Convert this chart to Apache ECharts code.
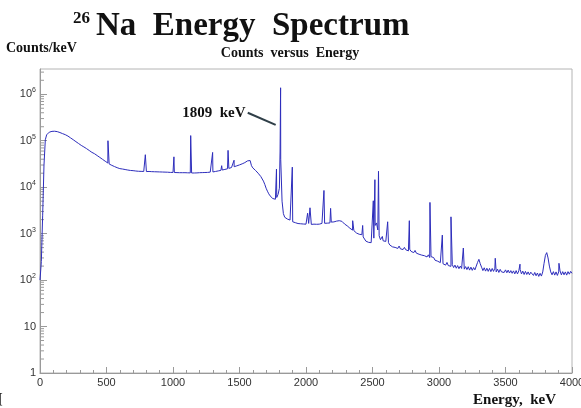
<!DOCTYPE html>
<html>
<head>
<meta charset="utf-8">
<script src="https://cdn.jsdelivr.net/npm/echarts@6/dist/echarts.min.js"></script>
<style>
  html, body { margin: 0; padding: 0; background: #ffffff; }
  #chart { width: 581px; height: 408px; }
</style>
</head>
<body>
<div id="chart"></div>
<script>
// 26Na gamma-ray spectrum, counts per keV.
// Continuum sampled every 10 keV from 0 to 4000 keV.
const continuumStepKeV = 10;
const continuumCounts = [
  100, 250, 2500, 30000, 105000, 134000, 146000, 153000, 157000, 159000,
  160000, 160000, 159000, 157000, 154000, 150000, 146000, 142000, 138000, 135000,
  132000, 126000, 121000, 115000, 110000, 105000, 100000, 95500, 91200, 87100,
  83200, 79400, 75900, 73500, 70800, 67600, 64600, 61700, 58900, 56200,
  54500, 52500, 50100, 47900, 45700, 43700, 41700, 39800, 38000, 36300,
  34700, 33100, 31600, 30200, 29500, 28800, 27800, 27200, 26300, 25700,
  25100, 25300, 24600, 24500, 24000, 23800, 23400, 23300, 22900, 22800,
  22700, 22400, 22300, 22400, 22000, 22100, 21900, 22000, 21800, 21900,
  21700, 21600, 21800, 21500, 21600, 21400, 21500, 21300, 21400, 21200,
  21300, 21100, 21200, 21000, 21100, 20900, 21000, 20900, 20800, 20900,
  20800, 20700, 20800, 20600, 20700, 20500, 20600, 20500, 20400, 20500,
  20300, 20400, 20200, 20300, 20200, 20300, 20200, 20400, 20300, 20400,
  20500, 20400, 20600, 20500, 20700, 20600, 20800, 20900, 21100, 21000,
  21300, 21500, 21800, 22100, 22400, 22700, 23000, 23400, 23800, 24100,
  24500, 24900, 25400, 25900, 26500, 27000, 27600, 28200, 28800, 29500,
  30200, 31000, 31800, 32700, 33800, 35000, 36800, 38500, 37500, 29000,
  26000, 24500, 23000, 21500, 20000, 18600, 17000, 15500, 13500, 11500,
  9500, 8200, 7200, 6500, 6000, 5700, 5400, 5500, 6000, 7000,
  9500, 40000, 5000, 2700, 2250, 2120, 2060, 1990, 1960, 1880,
  1800, 1700, 1720, 1620, 1650, 1580, 1630, 1570, 1610, 1550,
  1600, 1640, 1660, 1600, 1580, 1530, 1600, 1550, 1590, 1620,
  1600, 1640, 1660, 1710, 1670, 1730, 1680, 1750, 1700, 1770,
  1820, 1790, 1860, 1860, 1890, 1900, 1900, 1840, 1770, 1610,
  1560, 1470, 1400, 1310, 1270, 1190, 1160, 1060, 1030, 970,
  970, 920, 950, 850, 790, 690, 680, 650, 640, 640,
  700, 800, 1500, 1700, 1200, 900, 740, 720, 700, 670,
  680, 620, 640, 570, 600, 520, 550, 505, 530, 480,
  540, 470, 515, 455, 505, 450, 480, 425, 460, 415,
  445, 390, 435, 380, 410, 360, 390, 345, 370, 335,
  360, 315, 350, 305, 320, 290, 305, 268, 288, 255,
  265, 238, 258, 225, 248, 210, 240, 205, 226, 198,
  215, 186, 210, 180, 205, 176, 200, 178, 190, 172,
  195, 168, 194, 164, 190, 162, 186, 166, 200, 240,
  280, 225, 190, 160, 184, 156, 180, 154, 178, 152,
  178, 154, 180, 150, 172, 146, 170, 150, 162, 146,
  166, 144, 164, 142, 160, 140, 158, 136, 160, 136,
  158, 170, 136, 156, 132, 154, 132, 150, 130, 148,
  150, 126, 146, 124, 142, 120, 140, 122, 150, 230,
  340, 390, 300, 200, 150, 130, 152, 128, 150, 126,
  150, 158, 130, 152, 130, 150, 128, 152, 134, 154,
  140
];

// Gamma lines on top of the continuum: energy (keV) and peak height (counts/keV).
const lineKeV = [
  511, 792, 1007, 1133, 1298, 1366, 1414, 1459, 1778, 1805, 1809, 1897,
  2012, 2030, 2135, 2185, 2351, 2426, 2506, 2518, 2545, 2574, 2614, 2777,
  2932, 3025, 3090, 3183, 3303, 3423, 3609, 3902
];
const lineCounts = [
  100000, 50000, 45000, 129000, 56000, 29000, 62000, 38000, 24500, 60000, 1380000, 27000,
  2750, 3600, 8500, 3500, 1900, 1500, 5100, 14500, 22000, 870, 1800, 1900,
  4700, 930, 2300, 490, 295, 295, 220, 230
];

const energyRange = [0, 4000];
const energyTickStep = 500;
const countRange = [1, 3.5e6];

const mainTitleIsotope = '26';
const mainTitleText = 'Na  Energy  Spectrum';
const plotTitle = 'Counts  versus  Energy';
const yAxisTitle = 'Counts/keV';
const xAxisTitle = 'Energy,  keV';
const peakLabel = '1809  keV';
const peakLabelAnchor = [1545, 4.0e5];
const peakLeader = [[1562, 4.0e5], [1772, 2.2e5]];

const spectrum = continuumCounts.map((c, i) => [i * continuumStepKeV, c]);
lineKeV.forEach((e, i) => spectrum.push([e, lineCounts[i]]));
spectrum.sort((a, b) => a[0] - b[0]);

// Minor log ticks at 2..9 x 10^k inside the plotted range.
const minorTicks = [];
for (let k = 0; k <= 6; k++) {
  for (let m = 2; m <= 9; m++) {
    const v = m * Math.pow(10, k);
    if (v < countRange[1]) minorTicks.push([energyRange[0], v]);
  }
}

const axisGrey = '#9a9a9a';
const labelFont = 'Liberation Sans';

const chart = echarts.init(document.getElementById('chart'), null, { renderer: 'canvas' });

chart.setOption({
  animation: false,
  backgroundColor: '#ffffff',
  grid: {
    left: 40, right: 9, top: 69, bottom: 35,
    show: true, borderColor: '#b4b4b4', borderWidth: 1,
    containLabel: false, outerBoundsMode: 'none'
  },
  xAxis: {
    type: 'value',
    min: energyRange[0], max: energyRange[1], interval: energyTickStep,
    axisLine: { show: true, onZero: false, lineStyle: { color: axisGrey, width: 1 } },
    axisTick: { show: true, inside: true, length: 6, lineStyle: { color: axisGrey } },
    minorTick: { show: true, splitNumber: 5, length: 3, lineStyle: { color: axisGrey } },
    splitLine: { show: false },
    minorSplitLine: { show: false },
    axisLabel: {
      color: '#333333', fontFamily: labelFont, fontSize: 11, margin: 4,
      showMinLabel: true, showMaxLabel: true, hideOverlap: false,
      formatter: function (v) { return String(v); }
    }
  },
  yAxis: {
    type: 'log', logBase: 10,
    min: countRange[0], max: countRange[1],
    axisLine: { show: true, lineStyle: { color: axisGrey, width: 1 } },
    axisTick: { show: true, inside: true, length: 7, lineStyle: { color: axisGrey } },
    splitLine: { show: false },
    axisLabel: {
      margin: 4,
      showMaxLabel: false,
      formatter: function (v) {
        const p = Math.log10(v);
        const r = Math.round(p);
        if (Math.abs(p - r) > 1e-6) return '';
        if (r === 0) return '{b|1}';
        if (r === 1) return '{b|10}';
        return '{b|10}{e|' + r + '}';
      },
      rich: {
        b: { fontSize: 11, fontFamily: labelFont, color: '#333333' },
        e: { fontSize: 7, fontFamily: labelFont, color: '#333333', padding: [0, 0, 8, 0] }
      }
    }
  },
  series: [
    {
      type: 'line',
      data: spectrum,
      showSymbol: false,
      symbol: 'none',
      smooth: false,
      lineStyle: { color: '#2d2dbc', width: 1 },
      z: 5
    },
    {
      type: 'custom',
      data: minorTicks,
      silent: true,
      clip: false,
      z: 4,
      renderItem: function (params, api) {
        const p = api.coord([api.value(0), api.value(1)]);
        return {
          type: 'line',
          shape: { x1: p[0], y1: p[1], x2: p[0] + 4, y2: p[1] },
          style: { stroke: axisGrey, lineWidth: 1 }
        };
      }
    }
  ]
});

const labelPt = chart.convertToPixel({ gridIndex: 0 }, peakLabelAnchor);
const leadA = chart.convertToPixel({ gridIndex: 0 }, peakLeader[0]);
const leadB = chart.convertToPixel({ gridIndex: 0 }, peakLeader[1]);

chart.setOption({
  graphic: [
    {
      type: 'text', x: 73, y: 27,
      style: { text: mainTitleIsotope, font: 'bold 17px "Liberation Serif"', fill: '#111', textVerticalAlign: 'bottom' }
    },
    {
      type: 'text', x: 96, y: 43,
      style: { text: mainTitleText, font: 'bold 33px "Liberation Serif"', fill: '#111', textVerticalAlign: 'bottom' }
    },
    {
      type: 'text', x: 6, y: 48,
      style: { text: yAxisTitle, font: 'bold 14px "Liberation Serif"', fill: '#111', textVerticalAlign: 'middle' }
    },
    {
      type: 'text', x: 290, y: 53,
      style: { text: plotTitle, font: 'bold 14px "Liberation Serif"', fill: '#111', textAlign: 'center', textVerticalAlign: 'middle' }
    },
    {
      type: 'text', x: 556, y: 400,
      style: { text: xAxisTitle, font: 'bold 15px "Liberation Serif"', fill: '#111', textAlign: 'right', textVerticalAlign: 'middle' }
    },
    {
      type: 'text', x: -2, y: 399,
      style: { text: '[', font: 'bold 14px "Liberation Serif"', fill: '#222', textVerticalAlign: 'middle' }
    },
    {
      type: 'text', x: labelPt[0], y: labelPt[1],
      style: { text: peakLabel, font: 'bold 15px "Liberation Serif"', fill: '#111', textAlign: 'right', textVerticalAlign: 'middle' }
    },
    {
      type: 'line',
      shape: { x1: leadA[0], y1: leadA[1], x2: leadB[0], y2: leadB[1] },
      style: { stroke: '#2f3f48', lineWidth: 2 }
    }
  ]
});
</script>
</body>
</html>
